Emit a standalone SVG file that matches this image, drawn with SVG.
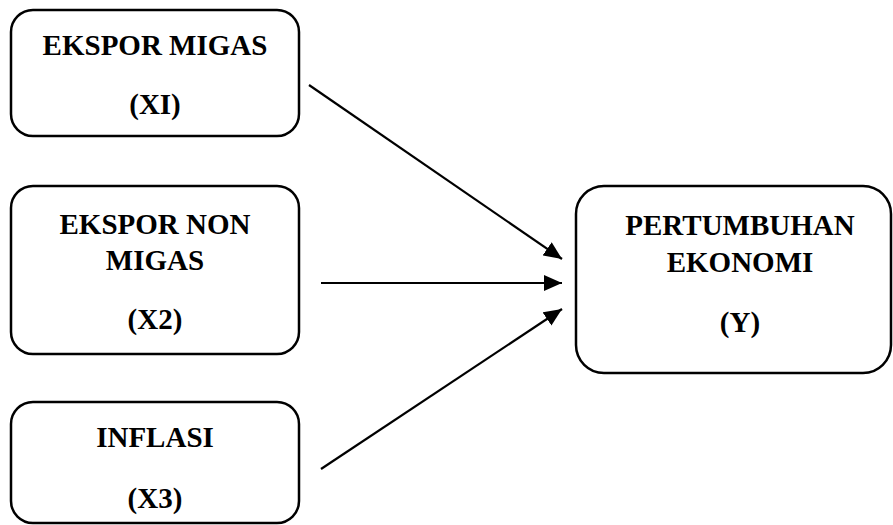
<svg xmlns="http://www.w3.org/2000/svg" width="893" height="525" viewBox="0 0 893 525">
<defs>
<marker id="arr" markerWidth="18" markerHeight="16" refX="18" refY="8" orient="auto" markerUnits="userSpaceOnUse">
<path d="M0,0 L18,8 L0,16 Z" fill="#000"/>
</marker>
<style>
.box{fill:#fff;stroke:#000;stroke-width:2.5}
.t{font-family:"Liberation Serif","Times New Roman",serif;font-weight:bold;font-size:29px;text-anchor:middle;fill:#000}
.c{stroke:#000;stroke-width:2.2;fill:none}
</style>
</defs>
<rect width="893" height="525" fill="#fff"/>
<g id="x1">
<rect class="box" x="11" y="10" width="288" height="126" rx="22"/>
<text class="t" x="155" y="55">EKSPOR MIGAS</text>
<text class="t" x="155" y="114">(XI)</text>
</g>
<g id="x2">
<rect class="box" x="11" y="186" width="288" height="168" rx="22"/>
<text class="t" x="155" y="234">EKSPOR NON</text>
<text class="t" x="155" y="270">MIGAS</text>
<text class="t" x="155" y="329">(X2)</text>
</g>
<g id="x3">
<rect class="box" x="11" y="402" width="288" height="121" rx="22"/>
<text class="t" x="155" y="447">INFLASI</text>
<text class="t" x="155" y="508">(X3)</text>
</g>
<g id="y">
<rect class="box" x="576" y="186" width="315" height="187" rx="28"/>
<text class="t" x="740" y="235">PERTUMBUHAN</text>
<text class="t" x="740" y="272">EKONOMI</text>
<text class="t" x="740" y="332">(Y)</text>
</g>
<g id="connectors">
<line class="c" x1="309" y1="85" x2="562" y2="259" marker-end="url(#arr)"/>
<line class="c" x1="321" y1="283" x2="562" y2="283" marker-end="url(#arr)"/>
<line class="c" x1="321" y1="469" x2="562" y2="309" marker-end="url(#arr)"/>
</g>
</svg>
